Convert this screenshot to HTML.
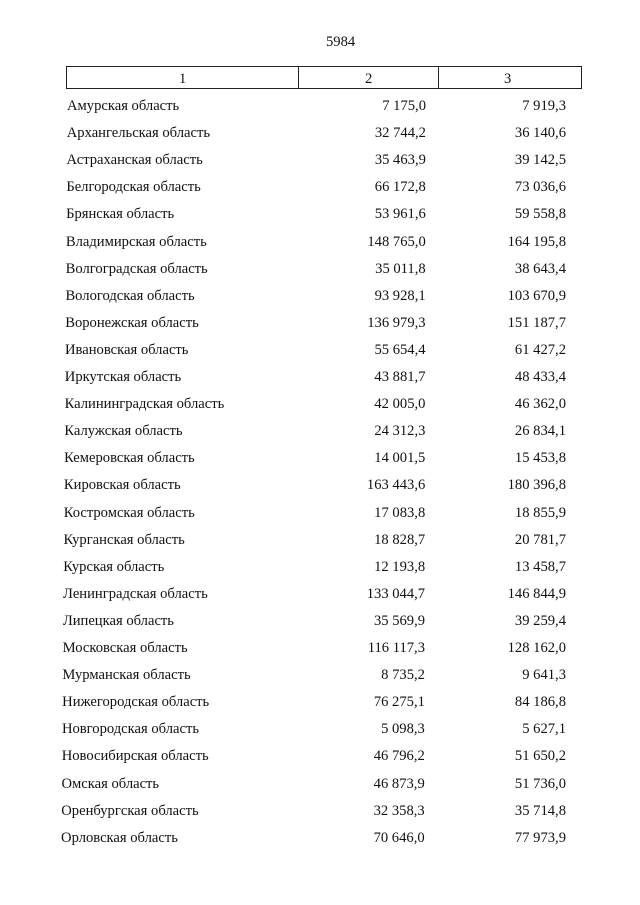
<!DOCTYPE html>
<html><head><meta charset="utf-8"><style>
body{margin:0;background:#fff;}
#p{position:relative;width:640px;height:905px;font-family:"Liberation Serif",serif;font-size:14.6px;color:#111;}
.t{position:absolute;white-space:nowrap;line-height:16px;}
.n{position:absolute;white-space:nowrap;line-height:16px;text-align:right;width:150px;}
#box{position:absolute;left:66px;top:66px;width:514px;height:21px;border:1px solid #222;}
.d{position:absolute;top:0;width:1px;height:21px;background:#222;}
</style></head><body><div id="p">
<div class="t" style="left:326px;top:34px">5984</div>
<div id="box"><div class="d" style="left:231px"></div><div class="d" style="left:371px"></div>
<div class="t" style="left:112px;top:4px">1</div><div class="t" style="left:298px;top:4px">2</div><div class="t" style="left:437px;top:4px">3</div></div>
<div id="rows"></div>
</div>
<script>
var d=[["Амурская область","7 175,0","7 919,3"],["Архангельская область","32 744,2","36 140,6"],["Астраханская область","35 463,9","39 142,5"],["Белгородская область","66 172,8","73 036,6"],["Брянская область","53 961,6","59 558,8"],["Владимирская область","148 765,0","164 195,8"],["Волгоградская область","35 011,8","38 643,4"],["Вологодская область","93 928,1","103 670,9"],["Воронежская область","136 979,3","151 187,7"],["Ивановская область","55 654,4","61 427,2"],["Иркутская область","43 881,7","48 433,4"],["Калининградская область","42 005,0","46 362,0"],["Калужская область","24 312,3","26 834,1"],["Кемеровская область","14 001,5","15 453,8"],["Кировская область","163 443,6","180 396,8"],["Костромская область","17 083,8","18 855,9"],["Курганская область","18 828,7","20 781,7"],["Курская область","12 193,8","13 458,7"],["Ленинградская область","133 044,7","146 844,9"],["Липецкая область","35 569,9","39 259,4"],["Московская область","116 117,3","128 162,0"],["Мурманская область","8 735,2","9 641,3"],["Нижегородская область","76 275,1","84 186,8"],["Новгородская область","5 098,3","5 627,1"],["Новосибирская область","46 796,2","51 650,2"],["Омская область","46 873,9","51 736,0"],["Оренбургская область","32 358,3","35 714,8"],["Орловская область","70 646,0","77 973,9"]];
var h="";
for(var i=0;i<d.length;i++){var y=98+i*27.1;var x=67-i*0.22;
h+='<div class="t" style="left:'+x+'px;top:'+y+'px">'+d[i][0]+'</div>';
h+='<div class="n" style="left:'+(276-i*0.05)+'px;top:'+y+'px">'+d[i][1]+'</div>';
h+='<div class="n" style="left:'+(416)+'px;top:'+y+'px">'+d[i][2]+'</div>';}
document.getElementById("rows").innerHTML=h;
</script>
</body></html>
